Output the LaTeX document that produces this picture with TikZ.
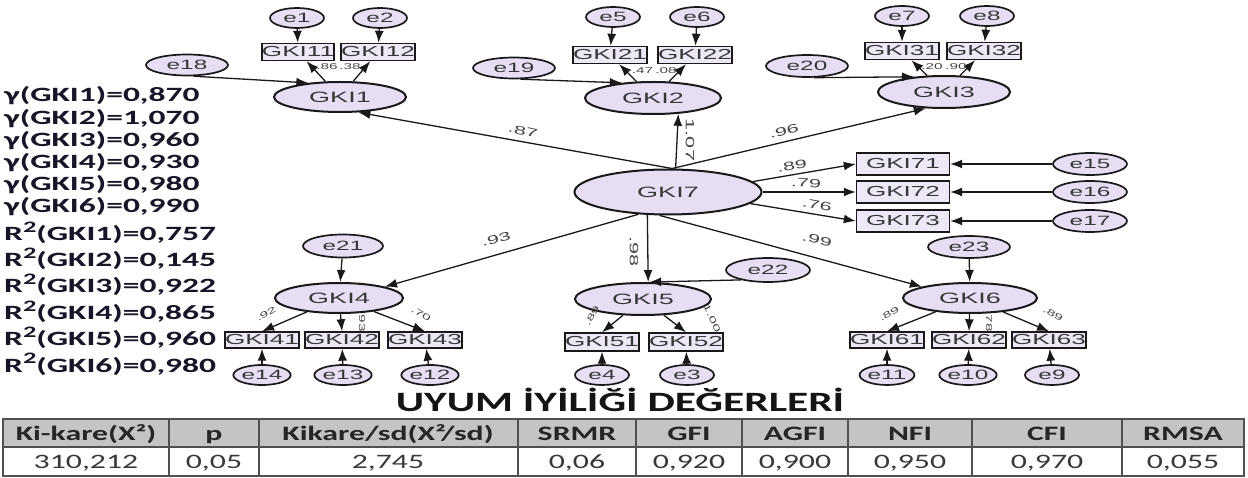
\documentclass[tikz,border=0pt]{standalone}
\usepackage{fontspec}
\setmainfont{Carlito}[FakeStretch=1.55]
\newfontfamily\sidefont{Carlito}[FakeStretch=1.65]
\newfontfamily\amosfont{Liberation Sans}[FakeStretch=1.8]
\usetikzlibrary{shapes.geometric,arrows.meta}

\definecolor{latfill}{RGB}{231,222,243}
\definecolor{boxfill}{RGB}{238,231,246}
\definecolor{inkline}{RGB}{25,25,25}
\definecolor{nodeink}{RGB}{55,55,55}
\definecolor{labink}{RGB}{70,70,70}
\definecolor{leftink}{RGB}{22,22,40}
\definecolor{hdrfill}{RGB}{196,196,196}
\definecolor{gridink}{RGB}{80,80,80}
\newcommand{\sqtwo}{\raisebox{0.42em}{\fontsize{16}{16}\selectfont 2}}

\begin{document}
\begin{tikzpicture}[x=1pt,y=-1pt,
  latent/.style={ellipse, draw=inkline, line width=2pt, fill=latfill, inner sep=0pt,
    text=nodeink, font=\amosfont\fontsize{15}{15}\selectfont},
  errv/.style={ellipse, draw=inkline, line width=1.7pt, fill=latfill, inner sep=0pt,
    minimum width=54pt, minimum height=20pt, text=nodeink, font=\amosfont\fontsize{13.5}{13.5}\selectfont},
  obsv/.style={rectangle, draw=inkline, line width=1.4pt, fill=boxfill, inner sep=0pt,
    minimum width=70pt, minimum height=17pt, text=nodeink, font=\amosfont\fontsize{14.5}{14.5}\selectfont},
  arr/.style={draw=inkline, line width=1.3pt, -{Latex[length=12pt,width=9pt]}},
  lbl/.style={text=labink, inner sep=0pt, font=\amosfont\fontsize{12}{12}\selectfont},
  lblsm/.style={text=labink, inner sep=0pt, font=\amosfont\fontsize{8.5}{8.5}\selectfont},
  lefttxt/.style={anchor=base west, inner sep=0pt, text=leftink, font=\sidefont\bfseries\fontsize{20.3}{20.3}\selectfont},
  hdr/.style={anchor=base, inner sep=0pt, text=black!85, font=\bfseries\fontsize{20.5}{20.5}\selectfont},
  val/.style={anchor=base, inner sep=0pt, text=black!78, font=\fontsize{20.5}{20.5}\selectfont}]

\useasboundingbox (0,0) rectangle (1248,478);
\fill[white] (0,0) rectangle (1248,478);

% ---------- GKI1 block ----------
\node[errv] (e1) at (297,18) {e1};
\node[errv] (e2) at (380,18) {e2};
\node[obsv] (x11) at (298,52) {GKI11};
\node[obsv] (x12) at (378,52) {GKI12};
\node[latent, minimum width=132pt, minimum height=30pt] (g1) at (340,97) {GKI1};
\node[errv, minimum width=82pt, minimum height=21pt] (e18) at (187,65) {e18};

% ---------- GKI2 block ----------
\node[errv] (e5) at (613,17) {e5};
\node[errv] (e6) at (697,17) {e6};
\node[obsv] (x21) at (610,55) {GKI21};
\node[obsv] (x22) at (695,55) {GKI22};
\node[latent, minimum width=136pt, minimum height=32pt] (g2) at (653,98) {GKI2};
\node[errv, minimum width=82pt, minimum height=21pt] (e19) at (514,68) {e19};

% ---------- GKI3 block ----------
\node[errv] (e7) at (902,16) {e7};
\node[errv] (e8) at (987,16) {e8};
\node[obsv] (x31) at (902,51) {GKI31};
\node[obsv] (x32) at (984,51) {GKI32};
\node[latent, minimum width=132pt, minimum height=32pt] (g3) at (944,92) {GKI3};
\node[errv, minimum width=82pt, minimum height=22pt] (e20) at (807,66) {e20};

% ---------- second-order factor ----------
\node[latent, minimum width=187pt, minimum height=45pt] (g7) at (668,192) {GKI7};
\node[obsv, minimum width=93pt, minimum height=22pt] (x71) at (903,164) {GKI71};
\node[obsv, minimum width=93pt, minimum height=22pt] (x72) at (903,192) {GKI72};
\node[obsv, minimum width=93pt, minimum height=22pt] (x73) at (903,221) {GKI73};
\node[errv, minimum width=74pt, minimum height=22pt] (e15) at (1090,164) {e15};
\node[errv, minimum width=74pt, minimum height=22pt] (e16) at (1090,192) {e16};
\node[errv, minimum width=74pt, minimum height=22pt] (e17) at (1090,221) {e17};

% ---------- GKI4 block ----------
\node[errv, minimum width=80pt, minimum height=23pt] (e21) at (343,246) {e21};
\node[latent, minimum width=128pt, minimum height=30pt] (g4) at (339,298) {GKI4};
\node[obsv, minimum height=16pt] (x41) at (262,340) {GKI41};
\node[obsv, minimum height=16pt] (x42) at (342,340) {GKI42};
\node[obsv, minimum height=16pt] (x43) at (425,340) {GKI43};
\node[errv] (e14) at (262,375) {e14};
\node[errv] (e13) at (343,375) {e13};
\node[errv] (e12) at (430,375) {e12};

% ---------- GKI5 block ----------
\node[errv, minimum width=84pt, minimum height=24pt] (e22) at (768,270) {e22};
\node[latent, minimum width=136pt, minimum height=32pt] (g5) at (643,299) {GKI5};
\node[obsv, minimum height=18pt] (x51) at (602,342) {GKI51};
\node[obsv, minimum height=18pt] (x52) at (686,342) {GKI52};
\node[errv] (e4) at (602,375) {e4};
\node[errv] (e3) at (687,375) {e3};

% ---------- GKI6 block ----------
\node[errv, minimum width=82pt, minimum height=22pt] (e23) at (969,247) {e23};
\node[latent, minimum width=134pt, minimum height=30pt] (g6) at (970,298) {GKI6};
\node[obsv, minimum height=16pt] (x61) at (887,340) {GKI61};
\node[obsv, minimum height=16pt] (x62) at (969,340) {GKI62};
\node[obsv, minimum height=16pt] (x63) at (1049,340) {GKI63};
\node[errv] (e11) at (887,375) {e11};
\node[errv] (e10) at (968,375) {e10};
\node[errv] (e9) at (1052,375) {e9};

% ---------- paths: first-order blocks ----------
\draw[arr] (e1) -- (x11);
\draw[arr] (e2) -- (x12);
\draw[arr] (g1) -- (x11);
\draw[arr] (g1) -- (x12);
\draw[arr] (e18.-60) -- (g1.156);

\draw[arr] (e5) -- (x21);
\draw[arr] (e6) -- (x22);
\draw[arr] (g2) -- (x21);
\draw[arr] (g2) -- (x22);
\draw[arr] (e19.-60) -- (g2.154);

\draw[arr] (e7) -- (x31);
\draw[arr] (e8) -- (x32);
\draw[arr] (g3) -- (x31);
\draw[arr] (g3) -- (x32);
\draw[arr] (e20.-60) -- (g3.153);

% ---------- paths from the second-order factor ----------
\draw[arr] (g7.80) -- (g1.-40);
\draw[arr] (g7.72) -- (g2.-32);
\draw[arr] (g7.80) -- (g3.222);
\draw[arr] (g7.217) -- (g4.north east);
\draw[arr] (g7.228) -- (g5.73);
\draw[arr] (g7.250) -- (g6.north west);
\draw[arr] (g7.7) -- (x71.west);
\draw[arr] (g7.east) -- (x72.west);
\draw[arr] (g7.-8) -- (x73.west);
\draw[arr] (e15) -- (x71);
\draw[arr] (e16) -- (x72);
\draw[arr] (e17) -- (x73);

\node[lbl, rotate=-12] (l87) at (523,131) {.87};
\node[lbl, rotate=-90] (l107) at (690,140) {1.07};
\node[lbl, rotate=15] (l96) at (784,131) {.96};
\node[lbl, rotate=15] (l93) at (496,239) {.93};
\node[lbl, rotate=-90] (l98) at (634,252) {.98};
\node[lbl, rotate=-13] (l99) at (817,240) {.99};
\node[lbl, rotate=10] (l89) at (792,166) {.89};
\node[lbl, rotate=-3] (l79) at (806,183) {.79};
\node[lbl, rotate=-10] (l76) at (817,205) {.76};

% ---------- lower blocks ----------
\draw[arr] (e21) -- (g4);
\draw[arr] (g4) -- (x41.north);
\draw[arr] (g4) -- (x42.north);
\draw[arr] (g4) -- (x43.north);
\draw[arr] (e14) -- (x41);
\draw[arr] (e13) -- (x42);
\draw[arr] (e12) -- (x43);

\draw[arr] (e22.200) -- (g5.70);
\draw[arr] (g5) -- (x51.north);
\draw[arr] (g5) -- (x52.north);
\draw[arr] (e4) -- (x51);
\draw[arr] (e3) -- (x52);

\draw[arr] (e23) -- (g6);
\draw[arr] (g6) -- (x61.north);
\draw[arr] (g6) -- (x62.north);
\draw[arr] (g6) -- (x63.north);
\draw[arr] (e11) -- (x61);
\draw[arr] (e10) -- (x62);
\draw[arr] (e9) -- (x63);

% ---------- loading labels ----------
\node[lblsm] (l11) at (327,67) {.86};
\node[lblsm] (l12) at (350,67) {.38};
\node[lblsm] (l21) at (640,71) {-.47};
\node[lblsm] (l22) at (666,71) {.08};
\node[lblsm] (l31) at (932,67) {.20};
\node[lblsm] (l32) at (956,67) {.90};
\node[lblsm, rotate=30] (l41) at (266,314) {.92};
\node[lblsm, rotate=-90] (l42) at (362,321) {.93};
\node[lblsm, rotate=-30] (l43) at (421,314) {.70};
\node[lblsm, rotate=60] (l51) at (592,316) {.89};
\node[lblsm, rotate=-65] (l52) at (712,318) {1.00};
\node[lblsm, rotate=30] (l61) at (889,314) {.89};
\node[lblsm, rotate=-90] (l62) at (989,321) {.78};
\node[lblsm, rotate=-30] (l63) at (1053,314) {.89};

% ---------- parameter list ----------
\node[lefttxt] (p1) at (4,102) {γ(GKI1)=0,870};
\node[lefttxt] (p2) at (4,124.5) {γ(GKI2)=1,070};
\node[lefttxt] (p3) at (4,147) {γ(GKI3)=0,960};
\node[lefttxt] (p4) at (4,169) {γ(GKI4)=0,930};
\node[lefttxt] (p5) at (4,191) {γ(GKI5)=0,980};
\node[lefttxt] (p6) at (4,213) {γ(GKI6)=0,990};
\node[lefttxt] (r1) at (4,241) {R\sqtwo(GKI1)=0,757};
\node[lefttxt] (r2) at (4,267) {R\sqtwo(GKI2)=0,145};
\node[lefttxt] (r3) at (4,293) {R\sqtwo(GKI3)=0,922};
\node[lefttxt] (r4) at (4,320) {R\sqtwo(GKI4)=0,865};
\node[lefttxt] (r5) at (4,346) {R\sqtwo(GKI5)=0,960};
\node[lefttxt] (r6) at (4,372) {R\sqtwo(GKI6)=0,980};

% ---------- fit table ----------
\node[font=\bfseries\fontsize{28}{28}\selectfont, text=black!92] (title) at (620,400) {UYUM İYİLİĞİ DEĞERLERİ};

\fill[hdrfill] (3,419) rectangle (1244,447);
\draw[gridink, line width=2pt] (3,419) rectangle (1244,476);
\draw[gridink, line width=1.6pt] (3,447) -- (1244,447);
\foreach \cx in {169,259,518,636,742,848,972,1122}
  \draw[gridink, line width=1.6pt] (\cx,419) -- (\cx,476);

\node[hdr] (h1) at (86,440) {Ki-kare(X²)};
\node[hdr] (h2) at (214,440) {p};
\node[hdr] (h3) at (388,440) {Kikare/sd(X²/sd)};
\node[hdr] (h4) at (577,440) {SRMR};
\node[hdr] (h5) at (689,440) {GFI};
\node[hdr] (h6) at (795,440) {AGFI};
\node[hdr] (h7) at (910,440) {NFI};
\node[hdr] (h8) at (1047,440) {CFI};
\node[hdr] (h9) at (1183,440) {RMSA};

\node[val] (v1) at (86,468) {310,212};
\node[val] (v2) at (214,468) {0,05};
\node[val] (v3) at (388,468) {2,745};
\node[val] (v4) at (577,468) {0,06};
\node[val] (v5) at (689,468) {0,920};
\node[val] (v6) at (795,468) {0,900};
\node[val] (v7) at (910,468) {0,950};
\node[val] (v8) at (1047,468) {0,970};
\node[val] (v9) at (1183,468) {0,055};
\end{tikzpicture}
\end{document}
